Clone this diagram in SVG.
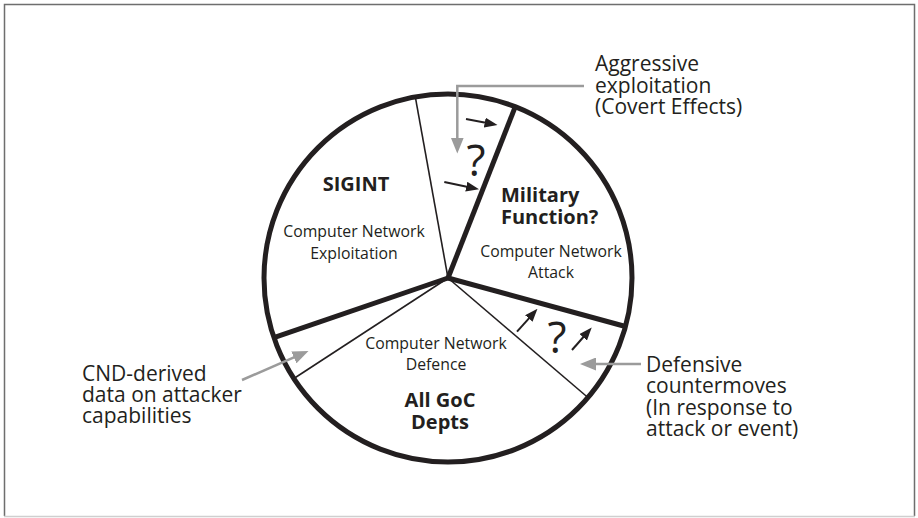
<svg xmlns="http://www.w3.org/2000/svg" width="918" height="518" viewBox="0 0 918 518">
  <style>
    .txt { font-family: "Open Sans", "Noto Sans", "Liberation Sans", sans-serif; fill: #231f20; }
    .side { font-size: 21px; }
    .sub { font-size: 15.8px; text-anchor: middle; }
    .head { font-size: 20px; font-weight: bold; }
    .q { font-size: 44px; text-anchor: middle; }
    .rim { fill: #ffffff; stroke: #231f20; stroke-width: 5; }
    .thick { stroke: #231f20; stroke-width: 5; stroke-linecap: butt; }
    .thin { stroke: #231f20; stroke-width: 1.6; }
    .move { stroke: #231f20; stroke-width: 2; fill: none; marker-end: url(#blackHead); }
    .pointer { stroke: #9b9b9b; stroke-width: 2.5; fill: none; marker-end: url(#greyHead); }
  </style>
  <defs>
    <marker id="blackHead" markerUnits="userSpaceOnUse" viewBox="0 0 13 10" refX="9" refY="5" markerWidth="13" markerHeight="10" orient="auto">
      <path d="M0,0 L13,5 L0,10 z" fill="#231f20"/>
    </marker>
    <marker id="greyHead" markerUnits="userSpaceOnUse" viewBox="0 0 16 13" refX="10" refY="6.5" markerWidth="16" markerHeight="13" orient="auto">
      <path d="M0,0 L16,6.5 L0,13 z" fill="#9b9b9b"/>
    </marker>
  </defs>

  <!-- frame -->
  <rect x="0" y="0" width="918" height="518" fill="#ffffff"/>
  <path d="M4.5,516 V4.5 H914.5 V516" fill="none" stroke="#6e6e6e" stroke-width="1.5"/>
  <line x1="4" y1="516.5" x2="915" y2="516.5" stroke="#cfcfcf" stroke-width="1.5"/>

  <!-- pie outline and dividers -->
  <g id="pie">
    <circle class="rim" cx="448" cy="278" r="184"/>
    <line class="thin" x1="448" y1="278" x2="415.3" y2="96.9"/>
    <line class="thin" x1="448" y1="278" x2="587.9" y2="397.5"/>
    <line class="thin" x1="448" y1="278" x2="293.9" y2="378.5"/>
    <line class="thick" x1="448" y1="278" x2="515.3" y2="106.7"/>
    <line class="thick" x1="448" y1="278" x2="625.5" y2="326.5"/>
    <line class="thick" x1="448" y1="278" x2="273.9" y2="337.6"/>
  </g>

  <g id="sigint">
    <text class="txt head" x="356" y="191" text-anchor="middle">SIGINT</text>
    <text class="txt sub" x="354" y="237">Computer Network</text>
    <text class="txt sub" x="354" y="259">Exploitation</text>
  </g>

  <g id="military">
    <text class="txt head" x="501" y="201.5">Military</text>
    <text class="txt head" x="501" y="224">Function?</text>
    <text class="txt sub" x="551" y="257">Computer Network</text>
    <text class="txt sub" x="551" y="278">Attack</text>
  </g>

  <g id="goc">
    <text class="txt sub" x="436" y="349">Computer Network</text>
    <text class="txt sub" x="436" y="370">Defence</text>
    <text class="txt head" x="440" y="407" text-anchor="middle">All GoC</text>
    <text class="txt head" x="440" y="429" text-anchor="middle">Depts</text>
  </g>

  <g id="covert-wedge">
    <text class="txt q" x="476" y="176">?</text>
  </g>

  <g id="defensive-wedge">
    <text class="txt q" x="557" y="353">?</text>
  </g>

  <g id="aggressive-label">
    <text class="txt side" x="595" y="71">Aggressive</text>
    <text class="txt side" x="595" y="92.5">exploitation</text>
    <text class="txt side" x="595" y="114">(Covert Effects)</text>
  </g>

  <g id="defensive-label">
    <text class="txt side" x="646" y="371.5">Defensive</text>
    <text class="txt side" x="646" y="393">countermoves</text>
    <text class="txt side" x="646" y="414.5">(In response to</text>
    <text class="txt side" x="646" y="436">attack or event)</text>
  </g>

  <g id="cnd-label">
    <text class="txt side" x="82" y="381">CND-derived</text>
    <text class="txt side" x="82" y="402">data on attacker</text>
    <text class="txt side" x="82" y="423">capabilities</text>
  </g>

  <g id="connectors">
    <path class="move" d="M466,119 L493.6,124.3"/>
    <path class="move" d="M444.3,182 L475.1,188.5"/>
    <path class="move" d="M517,331.7 L534.8,311.8"/>
    <path class="move" d="M572,350 L589.1,330.5"/>
    <path class="pointer" d="M584,86 H457.3 V147.5"/>
    <path class="pointer" d="M641,364 H586"/>
    <path class="pointer" d="M242,380 L303,353.4"/>
  </g>
</svg>
